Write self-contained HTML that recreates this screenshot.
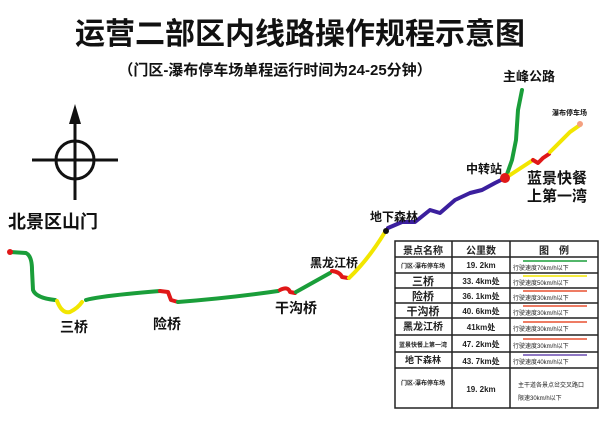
<!DOCTYPE html>
<html><head><meta charset="utf-8"><style>
body{margin:0;background:#fff;width:600px;height:423px;overflow:hidden;font-family:"Liberation Sans","Noto Sans CJK SC",sans-serif}
</style></head><body>
<svg width="600" height="423" xmlns="http://www.w3.org/2000/svg" font-family="Liberation Sans, Noto Sans CJK SC, sans-serif">
<text x="300" y="44" font-size="30" font-weight="bold" text-anchor="middle" fill="#111">运营二部区内线路操作规程示意图</text>
<text x="275" y="75" font-size="15" font-weight="bold" text-anchor="middle" fill="#111">（门区-瀑布停车场单程运行时间为24-25分钟）</text>
<!-- compass -->
<g stroke="#111" stroke-width="3" fill="none">
<circle cx="75" cy="160" r="19"/>
<line x1="32" y1="160" x2="118" y2="160"/>
<line x1="75" y1="118" x2="75" y2="200"/>
</g>
<polygon points="75,104 69,124 81,124" fill="#111"/>
<text x="8" y="228" font-size="18" font-weight="bold" fill="#111">北景区山门</text>
<g fill="none" stroke-width="4" stroke-linecap="round" stroke-linejoin="round">
<path d="M10,252 L26,253 Q32,256 32,270 L33,290 Q36,298 55,300" stroke="#1a9e3a"/>
<path d="M57,301 Q62,314 70,312 Q78,308 82,302" stroke="#f2e600"/>
<path d="M86,300 Q100,296 160,291" stroke="#1a9e3a"/>
<path d="M160,291 L168,292 L171,300 L178,302" stroke="#e01818"/>
<path d="M178,302 Q230,298 278,291" stroke="#1a9e3a"/>
<path d="M280,290 Q288,286 290,292 L295,293" stroke="#e01818"/>
<path d="M296,292 L330,273" stroke="#1a9e3a"/>
<path d="M332,271 Q340,272 342,277 L348,278" stroke="#e01818"/>
<path d="M349,278 Q368,260 385,232" stroke="#f2e600"/>
<path d="M388,228 L402,222 L415,222 L430,210 L440,213 L455,200 L470,193 L482,190 L495,183 L505,178" stroke="#3b1f9e"/>
<path d="M506,177 L512,160 L516,140 L518,110 L522,90" stroke="#1a9e3a"/>
<path d="M507,177 L533,160" stroke="#f2e600"/>
<path d="M533,160 L538,163 L543,158 L549,154" stroke="#e01818"/>
<path d="M550,152 L570,132 L580,125" stroke="#f2e600"/>
</g>
<circle cx="10" cy="252" r="3" fill="#e01818"/>
<circle cx="505" cy="178" r="5" fill="#e01818"/>
<circle cx="580" cy="124" r="3" fill="#f4a080"/>
<circle cx="386" cy="231" r="3" fill="#111"/>
<g font-weight="bold" fill="#111">
<text x="60" y="332" font-size="14">三桥</text>
<text x="153" y="329" font-size="14">险桥</text>
<text x="275" y="313" font-size="14">干沟桥</text>
<text x="310" y="267" font-size="12">黑龙江桥</text>
<text x="370" y="221" font-size="12">地下森林</text>
<text x="466" y="173" font-size="12">中转站</text>
<text x="503" y="81" font-size="13">主峰公路</text>
<text x="552" y="115" font-size="7">瀑布停车场</text>
<text x="527" y="183" font-size="15">蓝景快餐</text>
<text x="527" y="201" font-size="15">上第一湾</text>
</g>
<!-- table -->
<g stroke="#222" stroke-width="1.5" fill="none">
<rect x="395" y="241" width="203" height="167"/>
<line x1="452" y1="241" x2="452" y2="408"/>
<line x1="510" y1="241" x2="510" y2="408"/>
<line x1="395" y1="257" x2="598" y2="257"/>
<line x1="395" y1="273" x2="598" y2="273"/>
<line x1="395" y1="288" x2="598" y2="288"/>
<line x1="395" y1="303" x2="598" y2="303"/>
<line x1="395" y1="318" x2="598" y2="318"/>
<line x1="395" y1="335" x2="598" y2="335"/>
<line x1="395" y1="352" x2="598" y2="352"/>
<line x1="395" y1="368" x2="598" y2="368"/>
</g>
<g font-weight="bold" fill="#222" text-anchor="middle">
<text x="423" y="254" font-size="10">景点名称</text><text x="481" y="254" font-size="10">公里数</text><text x="554" y="254" font-size="10">图　例</text>
<text x="423" y="268" font-size="6">门区-瀑布停车场</text><text x="481" y="268" font-size="8">19. 2km</text>
<text x="423" y="285" font-size="11">三桥</text><text x="481" y="284" font-size="8">33. 4km处</text>
<text x="423" y="300" font-size="11">险桥</text><text x="481" y="299" font-size="8">36. 1km处</text>
<text x="423" y="315" font-size="11">干沟桥</text><text x="481" y="314" font-size="8">40. 6km处</text>
<text x="423" y="330" font-size="10">黑龙江桥</text><text x="481" y="330" font-size="8">41km处</text>
<text x="423" y="347" font-size="6">蓝景快餐上第一湾</text><text x="481" y="347" font-size="8">47. 2km处</text>
<text x="423" y="363" font-size="9">地下森林</text><text x="481" y="364" font-size="8">43. 7km处</text>
<text x="423" y="385" font-size="6">门区-瀑布停车场</text><text x="481" y="392" font-size="8">19. 2km</text>
</g>
<g font-size="6" fill="#222">
<text x="513" y="270">行驶速度70km/h以下</text>
<text x="513" y="285">行驶速度50km/h以下</text>
<text x="513" y="300">行驶速度30km/h以下</text>
<text x="513" y="315">行驶速度30km/h以下</text>
<text x="513" y="331">行驶速度30km/h以下</text>
<text x="513" y="348">行驶速度30km/h以下</text>
<text x="513" y="364">行驶速度40km/h以下</text>
<text x="518" y="387">主干道各景点岔交叉路口</text>
<text x="518" y="400">限速30km/h以下</text>
</g>
<g stroke-width="1.5">
<line x1="523" y1="261" x2="587" y2="261" stroke="#1a9e3a"/>
<line x1="523" y1="276" x2="587" y2="276" stroke="#f2e600"/>
<line x1="523" y1="291" x2="587" y2="291" stroke="#e85030"/>
<line x1="523" y1="306" x2="587" y2="306" stroke="#e85030"/>
<line x1="523" y1="322" x2="587" y2="322" stroke="#e85030"/>
<line x1="523" y1="339" x2="587" y2="339" stroke="#e85030"/>
<line x1="523" y1="355" x2="587" y2="355" stroke="#6a4cb0"/>
</g>
</svg>
</body></html>
